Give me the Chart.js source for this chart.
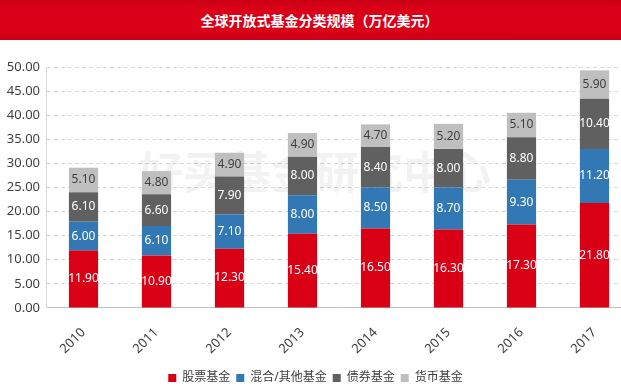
<!DOCTYPE html>
<html>
<head>
  <meta charset="utf-8">
  <title>全球开放式基金分类规模</title>
  <script src="https://cdn.jsdelivr.net/npm/chart.js@4"></script>
  <style>
    html, body {
      width: 100%;
      height: 100%;
      margin: 0;
      overflow: hidden;
      background: #fff;
    }
    .head {
      position: absolute;
      left: 0; top: 0;
      width: 100%;
      height: 40px;
      box-sizing: border-box;
      padding-left: 18px;
      background: linear-gradient(rgb(200, 0, 20), rgb(218, 0, 24) 20%, rgb(218, 0, 24) 80%, rgb(200, 0, 20));
      color: white;
      text-align: center;
      line-height: 40px;
      font-family: "Noto Sans CJK SC", sans-serif;
      font-size: 14px;
      font-weight: bold;
    }
    .graph {
      position: absolute;
      left: 0; top: 40px;
      width: 640px;
      height: 354px;
    }
  </style>
</head>
<body>
  <div class="head">全球开放式基金分类规模（万亿美元）</div>
  <div class="graph">
    <canvas id="graph-canvas"></canvas>
  </div>
  <script>
    // data
    const years = ['2010', '2011', '2012', '2013', '2014', '2015', '2016', '2017'];
    const stock = [11.9, 10.9, 12.3, 15.4, 16.5, 16.3, 17.3, 21.8];
    const mixed = [6.0, 6.1, 7.1, 8.0, 8.5, 8.7, 9.3, 11.2];
    const bond = [6.1, 6.6, 7.9, 8.0, 8.4, 8.0, 8.8, 10.4];
    const money = [5.1, 4.8, 4.9, 4.9, 4.7, 5.2, 5.1, 5.9];
    const seriesNames = ['股票基金', '混合/其他基金', '债券基金', '货币基金'];

    const colors = ['rgb(217, 0, 22)', 'rgb(50, 120, 180)', 'rgb(96, 96, 96)', 'rgb(191, 191, 191)'];
    const labelColors = ['#fff', '#fff', '#fff', '#404040'];
    const font = '"Noto Sans", "Noto Sans CJK SC", sans-serif';

    // value labels in the middle of each segment
    const segLabels = {
      id: 'segLabels',
      afterDatasetsDraw(chart) {
        const ctx = chart.ctx;
        ctx.save();
        ctx.font = '12px ' + font;
        ctx.textAlign = 'center';
        ctx.textBaseline = 'middle';
        chart.data.datasets.forEach((ds, i) => {
          chart.getDatasetMeta(i).data.forEach((bar, j) => {
            ctx.fillStyle = labelColors[i];
            ctx.fillText(ds.data[j].toFixed(2), bar.x, (bar.y + bar.base) / 2);
          });
        });
        ctx.restore();
      }
    };

    // faint watermark behind the bars + solid left axis line
    const watermark = {
      id: 'watermark',
      beforeDatasetsDraw(chart) {
        const ctx = chart.ctx;
        const a = chart.chartArea;
        ctx.save();
        ctx.strokeStyle = '#d9d9d9';
        ctx.lineWidth = 1;
        ctx.beginPath();
        ctx.moveTo(a.left - 0.5, a.top);
        ctx.lineTo(a.left - 0.5, a.bottom);
        ctx.stroke();
        ctx.font = 'bold 44px "Noto Sans CJK SC", sans-serif';
        ctx.fillStyle = 'rgba(0, 0, 0, 0.05)';
        ctx.textAlign = 'center';
        ctx.textBaseline = 'middle';
        ctx.fillText('好买基金研究中心', 315, 132);
        ctx.restore();
      }
    };

    const makeSet = (label, data, i) => ({
      label: label,
      data: data,
      backgroundColor: colors[i],
      borderWidth: 0,
      barPercentage: 0.4,
      categoryPercentage: 1.0
    });

    new Chart(document.getElementById('graph-canvas'), {
      type: 'bar',
      data: {
        labels: years,
        datasets: [
          makeSet(seriesNames[0], stock, 0),
          makeSet(seriesNames[1], mixed, 1),
          makeSet(seriesNames[2], bond, 2),
          makeSet(seriesNames[3], money, 3)
        ]
      },
      options: {
        responsive: true,
        maintainAspectRatio: false,
        animation: false,
        layout: { padding: { top: 27, right: 9, left: 0, bottom: 0 } },
        scales: {
          x: {
            stacked: true,
            grid: { display: false },
            border: { color: '#bfbfbf' },
            ticks: {
              minRotation: 45,
              maxRotation: 45,
              color: '#404040',
              font: { family: font, size: 13 },
              padding: 9
            }
          },
          y: {
            stacked: true,
            min: 0,
            max: 50,
            afterFit(scale) { scale.width = 47; },
            grid: { color: '#d9d9d9', drawTicks: false },
            border: { display: false, dash: [4, 3] },
            ticks: {
              stepSize: 5,
              color: '#404040',
              padding: 7,
              font: { family: font, size: 13 },
              callback: v => v.toFixed(2)
            }
          }
        },
        plugins: {
          legend: {
            position: 'bottom',
            labels: {
              boxWidth: 8,
              boxHeight: 8,
              padding: 6,
              color: '#404040',
              font: { family: font, size: 12 }
            }
          },
          tooltip: { enabled: false }
        }
      },
      plugins: [watermark, segLabels]
    });
  </script>
</body>
</html>
